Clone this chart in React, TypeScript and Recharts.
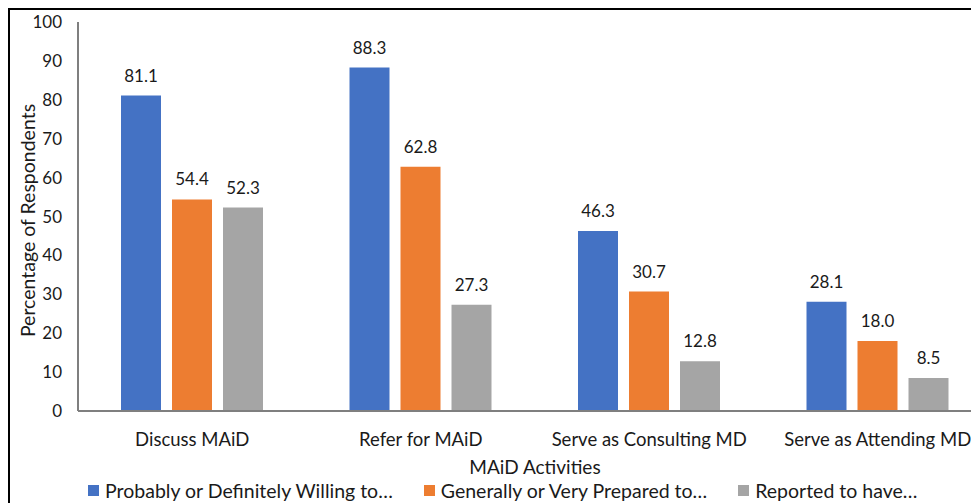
import React from "react";
import {
  BarChart,
  Bar,
  XAxis,
  YAxis,
  LabelList,
} from "recharts";

const activities = [
  "Discuss MAiD",
  "Refer for MAiD",
  "Serve as Consulting MD",
  "Serve as Attending MD",
];
const willing = [81.1, 88.3, 46.3, 28.1];
const prepared = [54.4, 62.8, 30.7, 18.0];
const reported = [52.3, 27.3, 12.8, 8.5];
const yTicks = [0, 10, 20, 30, 40, 50, 60, 70, 80, 90, 100];

const series = [
  { key: "willing", name: "Probably or Definitely Willing to…", color: "#4472C4" },
  { key: "prepared", name: "Generally or Very Prepared to…", color: "#ED7D31" },
  { key: "reported", name: "Reported to have…", color: "#A5A5A5" },
];

const data = activities.map((name, i) => ({
  name,
  willing: willing[i],
  prepared: prepared[i],
  reported: reported[i],
}));

const FONT = "Lato, 'Open Sans', sans-serif";
const TEXT = "#1a1a1a";

function ChartLegend() {
  return (
    <div
      style={{
        position: "absolute",
        left: 78,
        top: 469,
        display: "flex",
        gap: 31,
        fontFamily: FONT,
        fontSize: 19.5,
        color: TEXT,
        alignItems: "center",
        whiteSpace: "nowrap",
      }}
    >
      {series.map((s) => (
        <div key={s.key} style={{ display: "flex", alignItems: "center", gap: 6 }}>
          <span style={{ width: 11, height: 11, background: s.color, display: "inline-block" }} />
          <span>{s.name}</span>
        </div>
      ))}
    </div>
  );
}

export default function App() {
  return (
    <div style={{ width: 971, height: 495, overflow: "hidden", position: "relative" }}>
      <div
        style={{
          position: "absolute",
          left: 0,
          top: 0,
          width: 1010,
          height: 520,
          border: "2px solid #000",
          background: "#fff",
        }}
      >
        <BarChart
          width={1010}
          height={520}
          data={data}
          margin={{ top: 12, right: 28, left: 10, bottom: 79 }}
          barSize={40}
          barGap={11}
        >
          <XAxis
            dataKey="name"
            tickSize={0}
            tickMargin={22}
            axisLine={{ stroke: "#7f7f7f", strokeWidth: 2 }}
            tick={{ fontSize: 18.5, fill: TEXT, fontFamily: FONT }}
            height={40}
            label={{
              value: "MAiD Activities",
              position: "bottom",
              offset: 10,
              fontSize: 19,
              fill: TEXT,
              fontFamily: FONT,
            }}
          />
          <XAxis
            xAxisId="top"
            dataKey="name"
            orientation="top"
            height={0}
            tick={false}
            tickLine={false}
            axisLine={{ stroke: "#7f7f7f", strokeWidth: 2 }}
          />
          <YAxis
            domain={[0, 100]}
            ticks={yTicks}
            width={58}
            tickLine={false}
            tickSize={0}
            tickMargin={16}
            axisLine={{ stroke: "#7f7f7f", strokeWidth: 2 }}
            tick={{ fontSize: 17, fill: TEXT, fontFamily: FONT }}
            label={{
              value: "Percentage of Respondents",
              angle: -90,
              position: "insideLeft",
              dx: 3,
              dy: 4,
              fontSize: 19.5,
              fill: TEXT,
              fontFamily: FONT,
              style: { textAnchor: "middle" },
            }}
          />
          {series.map((s) => (
            <Bar key={s.key} dataKey={s.key} name={s.name} fill={s.color} isAnimationActive={false}>
              <LabelList
                dataKey={s.key}
                position="top"
                offset={14}
                formatter={(v: number) => v.toFixed(1)}
                style={{ fontSize: 17, fill: TEXT, fontFamily: FONT }}
              />
            </Bar>
          ))}
        </BarChart>
        <ChartLegend />
      </div>
    </div>
  );
}
